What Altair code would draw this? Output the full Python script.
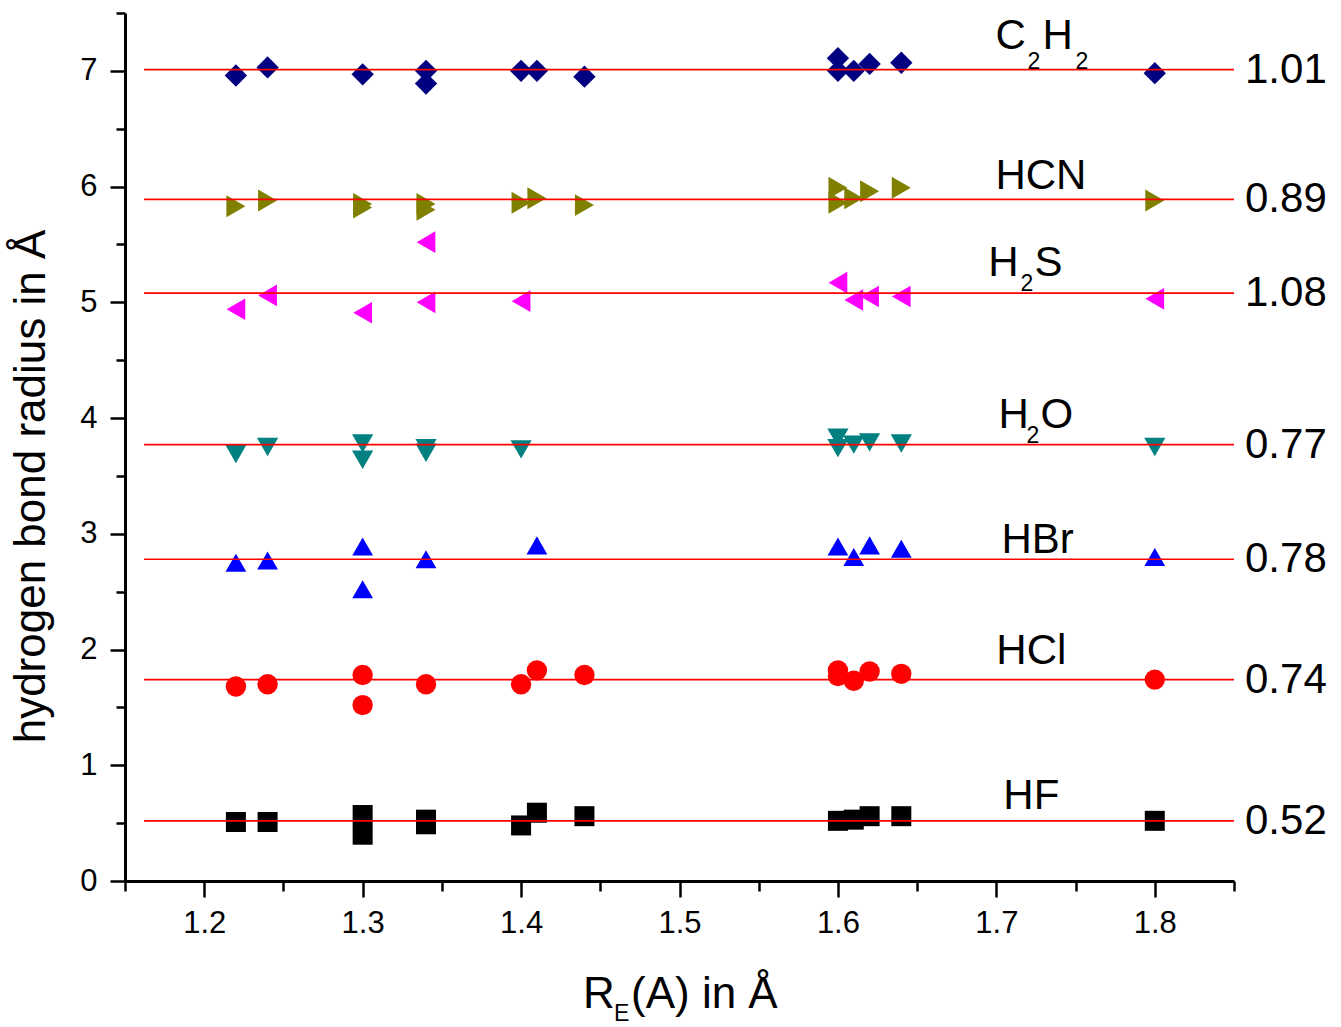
import altair as alt
import pandas as pd

FONT = "Liberation Sans, Arial, Helvetica, sans-serif"

# ---- data -------------------------------------------------------------
series = ["HF", "HCl", "HBr", "H2O", "H2S", "HCN", "C2H2"]
colors = ["#000000", "#ff0000", "#0000ff", "#008080", "#ff00ff", "#808000", "#000080"]
shapes = ["square", "circle", "triangle-up", "triangle-down", "triangle-left", "triangle-right", "diamond"]
sizes = [400, 500, 680, 680, 680, 680, 700]

# hydrogen bond radius (label) and the vertical offset used for stacking
radii = [0.52, 0.74, 0.78, 0.77, 1.08, 0.89, 1.01]
offsets = [0, 1, 2, 3, 4, 5, 6]

hf_x = [1.22, 1.24, 1.30, 1.30, 1.34, 1.34, 1.40, 1.41, 1.44, 1.60, 1.61, 1.62, 1.64, 1.80]
hf_y = [0.51, 0.51, 0.57, 0.40, 0.53, 0.49, 0.48, 0.59, 0.56, 0.52, 0.53, 0.56, 0.56, 0.52]

hcl_x = [1.22, 1.24, 1.30, 1.30, 1.34, 1.40, 1.41, 1.44, 1.60, 1.60, 1.61, 1.62, 1.64, 1.80]
hcl_y = [1.68, 1.70, 1.78, 1.52, 1.70, 1.70, 1.82, 1.78, 1.82, 1.77, 1.73, 1.81, 1.79, 1.74]

hbr_x = [1.22, 1.24, 1.30, 1.30, 1.34, 1.41, 1.60, 1.61, 1.62, 1.64, 1.80]
hbr_y = [2.75, 2.77, 2.89, 2.52, 2.78, 2.90, 2.89, 2.80, 2.90, 2.87, 2.80]

h2o_x = [1.22, 1.24, 1.30, 1.30, 1.34, 1.34, 1.40, 1.60, 1.60, 1.61, 1.62, 1.64, 1.80]
h2o_y = [3.69, 3.75, 3.78, 3.64, 3.74, 3.70, 3.73, 3.83, 3.74, 3.77, 3.79, 3.78, 3.75]

h2s_x = [1.22, 1.24, 1.30, 1.34, 1.34, 1.40, 1.60, 1.61, 1.62, 1.64, 1.80]
h2s_y = [4.94, 5.06, 4.91, 5.52, 5.00, 5.01, 5.17, 5.02, 5.05, 5.05, 5.03]

hcn_x = [1.22, 1.24, 1.30, 1.30, 1.34, 1.34, 1.40, 1.41, 1.44, 1.60, 1.60, 1.61, 1.62, 1.64, 1.80]
hcn_y = [5.83, 5.88, 5.85, 5.82, 5.85, 5.80, 5.86, 5.90, 5.84, 5.99, 5.86, 5.90, 5.96, 5.99, 5.88]

c2h2_x = [1.22, 1.24, 1.30, 1.34, 1.34, 1.40, 1.41, 1.44, 1.60, 1.60, 1.61, 1.62, 1.64, 1.80]
c2h2_y = [6.96, 7.03, 6.97, 7.00, 6.89, 7.00, 7.00, 6.95, 7.11, 7.00, 7.00, 7.06, 7.07, 6.98]

# molecule labels (pieces, so that subscripts can be drawn)
mol_text = ["C", "2", "H", "2", "HCN", "H", "2", "S", "H", "2", "O", "HBr", "HCl", "HF"]
mol_x = [1.6994, 1.7196, 1.7291, 1.7499, 1.6994, 1.6949, 1.7152, 1.7240, 1.7013, 1.7190, 1.7278, 1.7032, 1.7000, 1.7044]
mol_y = [7.191, 7.018, 7.191, 7.018, 5.981, 5.229, 5.099, 5.229, 3.915, 3.786, 3.915, 2.835, 1.876, 0.622]
mol_sub = [0, 1, 0, 1, 0, 0, 1, 0, 0, 1, 0, 0, 0, 0]

line_start = 1.162
line_end = 1.85

x_ticks = [1.15, 1.2, 1.25, 1.3, 1.35, 1.4, 1.45, 1.5, 1.55, 1.6, 1.65, 1.7, 1.75, 1.8, 1.85]
y_ticks = [0, 0.5, 1, 1.5, 2, 2.5, 3, 3.5, 4, 4.5, 5, 5.5, 6, 6.5, 7, 7.5]

# ---- tables ------------------------------------------------------------
xs = [hf_x, hcl_x, hbr_x, h2o_x, h2s_x, hcn_x, c2h2_x]
ys = [hf_y, hcl_y, hbr_y, h2o_y, h2s_y, hcn_y, c2h2_y]
rows = []
for s, xx, yy in zip(series, xs, ys):
    for a, b in zip(xx, yy):
        rows.append({"series": s, "x": a, "y": b})
points = pd.DataFrame(rows)

lines = pd.DataFrame({
    "series": series,
    "y": [r + o for r, o in zip(radii, offsets)],
    "label": [f"{r:.2f}" for r in radii],
    "x": [line_start] * len(series),
    "x1": [line_end] * len(series),
})

mols = pd.DataFrame({"t": mol_text, "x": mol_x, "y": mol_y, "sub": mol_sub})

# ---- chart -------------------------------------------------------------
W, H = 1109, 868
xscale = alt.Scale(domain=[1.15, 1.85], nice=False, zero=False)
yscale = alt.Scale(domain=[0, 7.5], nice=False, zero=False)

x_major = "abs(datum.value*10 - round(datum.value*10)) < 0.001"
y_major = "datum.value % 1 === 0"

xaxis = alt.Axis(
    values=x_ticks,
    labelExpr=f"{x_major} ? format(datum.value, '.1f') : ''",
    tickSize={"condition": {"test": x_major, "value": 16}, "value": 10},
    labelFontSize={"condition": {"test": x_major, "value": 31}, "value": 1},
    tickWidth=2.5, tickColor="black", domainWidth=3, domainColor="black",
    labelFont=FONT, labelColor="black", labelPadding=11,
    labelOverlap=False, labelFlush=False, grid=False, title=None,
)
yaxis = alt.Axis(
    values=y_ticks,
    labelExpr=f"{y_major} ? format(datum.value, 'd') : ''",
    tickSize={"condition": {"test": y_major, "value": 15}, "value": 9},
    labelFontSize={"condition": {"test": y_major, "value": 31}, "value": 1},
    tickWidth=2.5, tickColor="black", domainWidth=3, domainColor="black",
    labelFont=FONT, labelColor="black", labelPadding=13,
    labelOverlap=False, labelFlush=False, grid=False,
    title="hydrogen bond radius in Å", titleFont=FONT, titleFontSize=44,
    titleFontWeight="normal", titleColor="black", titleAngle=270,
    titleX=-81, titleY=473, titleAlign="center", titleBaseline="alphabetic",
)

X = alt.X("x:Q", scale=xscale, axis=xaxis)
Y = alt.Y("y:Q", scale=yscale, axis=yaxis)

pts = alt.Chart(points).mark_point(filled=True, opacity=1, strokeWidth=0).encode(
    x=X, y=Y,
    shape=alt.Shape("series:N", scale=alt.Scale(domain=series, range=shapes), legend=None),
    color=alt.Color("series:N", scale=alt.Scale(domain=series, range=colors), legend=None),
    size=alt.Size("series:N", scale=alt.Scale(domain=series, range=sizes), legend=None),
)

rules = alt.Chart(lines).mark_rule(color="#ff0000", strokeWidth=1.7).encode(
    x=X, x2="x1:Q", y=Y,
)

right_labels = alt.Chart(lines).mark_text(
    align="left", baseline="middle", dx=11, font=FONT, fontSize=42, color="black"
).encode(
    x=alt.X("x1:Q", scale=xscale, axis=xaxis), y=Y, text="label:N",
)

mol_main = alt.Chart(mols).transform_filter("datum.sub == 0").mark_text(
    align="left", baseline="alphabetic", font=FONT, fontSize=42, color="black"
).encode(x=X, y=Y, text="t:N")

mol_subs = alt.Chart(mols).transform_filter("datum.sub == 1").mark_text(
    align="left", baseline="alphabetic", font=FONT, fontSize=23, color="black"
).encode(x=X, y=Y, text="t:N")


def title_piece(txt, px, py, size):
    return alt.Chart(pd.DataFrame({"t": [txt]})).mark_text(
        align="left", baseline="alphabetic", font=FONT, fontSize=size, color="black"
    ).encode(x=alt.value(px), y=alt.value(py), text="t:N")


xt_r = title_piece("R", 458, 995, 44)
xt_e = title_piece("E", 489, 1008, 23)
xt_rest = title_piece("(A) in Å", 506, 995, 44)

chart = alt.layer(
    pts, rules, right_labels, mol_main, mol_subs, xt_r, xt_e, xt_rest
).properties(
    width=W, height=H,
    padding={"left": 8, "top": 11, "right": 2, "bottom": 0},
    background="white",
).configure_view(stroke=None)

chart.save("out.html", embed_options={"renderer": "svg", "actions": False})
